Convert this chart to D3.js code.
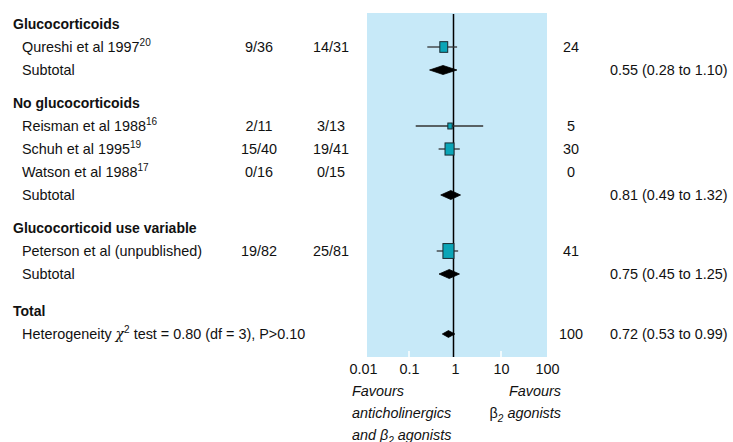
<!DOCTYPE html>
<html>
<head>
<meta charset="utf-8">
<script src="https://cdn.jsdelivr.net/npm/d3@7"></script>
<style>
    body { margin: 0; background: white; }
    svg { display: block; font-family: "Liberation Sans", Arial, sans-serif; }
</style>
</head>
<body>
<svg id="chart"></svg>
<script>
// Data
const group_names = ["Glucocorticoids", "No glucocorticoids", "Glucocorticoid use variable"]
const study_names = ["Qureshi et al 1997", "Reisman et al 1988", "Schuh et al 1995", "Watson et al 1988", "Peterson et al (unpublished)"]
const study_refs = ["20", "16", "19", "17", ""]
const study_group = [0, 1, 1, 1, 2]
const combined_events = ["9/36", "2/11", "15/40", "0/16", "19/82"]
const beta_events = ["14/31", "3/13", "19/41", "0/15", "25/81"]
const study_weights = [24, 5, 30, 0, 41]
const study_or = [0.57, 0.78, 0.76, null, 0.72]
const study_lower = [0.25, 0.14, 0.44, null, 0.40]
const study_upper = [1.11, 4.1, 1.27, null, 1.17]
const subtotal_or = [0.55, 0.81, 0.75]
const subtotal_lower = [0.28, 0.49, 0.45]
const subtotal_upper = [1.10, 1.32, 1.25]
const total_or = 0.72
const total_lower = 0.53
const total_upper = 0.99
const total_weight = 100
const tick_values = [0.01, 0.1, 1, 10, 100]
const tick_labels = ["0.01", "0.1", "1", "10", "100"]

const width = 733
const height = 442
const font_size = 14.4
const bold_size = 14
const row_step = 23
const panel_top = 13
const panel_bottom = 357

const svg = d3.select("#chart")
    .attr("width", width)
    .attr("height", height)

// Log scale for odds ratios
const x = d3.scaleLog()
    .domain([0.01, 100])
    .range([363, 547])

const box_size = d3.scaleLinear()
    .domain([0, 41])
    .range([3.5, 11])

const fmt = d3.format(".2f")

// Build row layout
const rows = []
let y_pos = 24
group_names.forEach(function(name, gi) {
    if (gi > 0) { y_pos += row_step + 10 }
    rows.push({ kind: "header", text: name, y: y_pos })
    study_names.forEach(function(s, i) {
        if (study_group[i] != gi) { return }
        y_pos += row_step
        rows.push({ kind: "study", i: i, y: y_pos })
    })
    y_pos += row_step
    rows.push({ kind: "subtotal", g: gi, y: y_pos })
})
y_pos += row_step + 14
rows.push({ kind: "header", text: "Total", y: y_pos })
y_pos += row_step
rows.push({ kind: "total", y: y_pos })

// Background panel
svg.append("rect")
    .attr("x", x(0.01) + 4)
    .attr("y", panel_top)
    .attr("width", x(100) - x(0.01) - 4)
    .attr("height", panel_bottom - panel_top)
    .attr("fill", "#c7e9f8")

// White tick marks at bottom of panel
svg.selectAll("line.wtick")
    .data([0.1, 10])
    .enter()
    .append("line")
    .attr("class", "wtick")
    .attr("x1", d => x(d))
    .attr("x2", d => x(d))
    .attr("y1", panel_bottom - 6)
    .attr("y2", panel_bottom)
    .attr("stroke", "white")
    .attr("stroke-width", 1.5)

// Line of no effect
svg.append("line")
    .attr("x1", x(1) - 1.5)
    .attr("x2", x(1) - 1.5)
    .attr("y1", panel_top + 1)
    .attr("y2", panel_bottom)
    .attr("stroke", "black")
    .attr("stroke-width", 1.5)

function addText(t, px, py, anchor, bold) {
    return svg.append("text")
        .attr("x", px)
        .attr("y", py + 5)
        .attr("text-anchor", anchor || "start")
        .attr("font-size", bold ? bold_size : font_size)
        .attr("font-weight", bold ? "bold" : "normal")
        .attr("fill", "#111")
        .text(t)
}

function diamond(est, lo, hi, cy, h) {
    const pts = [[x(lo), cy], [x(est), cy - h], [x(hi), cy], [x(est), cy + h]]
    svg.append("path")
        .attr("d", d3.line()(pts) + "Z")
        .attr("fill", "black")
        .attr("stroke", "black")
        .attr("stroke-width", 0.8)
}

rows.forEach(function(r) {
    if (r.kind == "header") {
        addText(r.text, 13, r.y, "start", true)
    } else if (r.kind == "study") {
        const i = r.i
        const t = addText(study_names[i], 22, r.y)
        if (study_refs[i] != "") {
            t.append("tspan")
                .attr("dy", -6)
                .attr("font-size", 10)
                .text(study_refs[i])
        }
        addText(combined_events[i], 259, r.y, "middle")
        addText(beta_events[i], 331, r.y, "middle")
        addText(study_weights[i], 571, r.y, "middle")
        if (study_or[i] != null) {
            svg.append("line")
                .attr("x1", x(study_lower[i]))
                .attr("x2", x(study_upper[i]))
                .attr("y1", r.y)
                .attr("y2", r.y)
                .attr("stroke", "#333")
                .attr("stroke-width", 1.3)
            const w = box_size(study_weights[i])
            const h = w * 1.35
            svg.append("rect")
                .attr("x", x(study_or[i]) - w / 2)
                .attr("y", r.y - h / 2)
                .attr("width", w)
                .attr("height", h)
                .attr("fill", "#0aa5b7")
                .attr("stroke", "#1a2a30")
                .attr("stroke-width", 1)
        }
    } else if (r.kind == "subtotal") {
        const g = r.g
        addText("Subtotal", 22, r.y)
        diamond(subtotal_or[g], subtotal_lower[g], subtotal_upper[g], r.y, 4.5)
        addText(fmt(subtotal_or[g]) + " (" + fmt(subtotal_lower[g]) + " to " + fmt(subtotal_upper[g]) + ")", 610, r.y)
    } else if (r.kind == "total") {
        const t = addText("Heterogeneity ", 22, r.y)
        t.append("tspan").attr("font-style", "italic").attr("font-family", "DejaVu Serif, serif").attr("font-size", 14).text("\u03c7")
        t.append("tspan").attr("dy", -6).attr("font-size", 10).text("2")
        t.append("tspan").attr("dy", 6).text(" test = 0.80 (df = 3), P>0.10")
        diamond(total_or, total_lower, total_upper, r.y, 3.4)
        addText(total_weight, 571, r.y, "middle")
        addText(fmt(total_or) + " (" + fmt(total_lower) + " to " + fmt(total_upper) + ")", 610, r.y)
    }
})

// Axis labels
const axis = d3.axisBottom(x)
    .tickValues(tick_values)
    .tickFormat((d, i) => tick_labels[i])
    .tickSize(0)

const axis_g = svg.append("g")
    .attr("transform", "translate(0," + panel_bottom + ")")
    .call(axis)

axis_g.select(".domain").remove()
axis_g.selectAll("text")
    .attr("y", 17)
    .attr("dy", 0)
    .attr("font-size", font_size)
    .attr("font-family", "\"Liberation Sans\", Arial, sans-serif")
    .attr("fill", "#111")

// Favours captions
const left_lines = ["Favours", "anticholinergics", "and \u03b2"]
left_lines.forEach(function(s, i) {
    const t = svg.append("text")
        .attr("x", 352)
        .attr("y", 396 + i * 22)
        .attr("font-size", font_size)
        .attr("font-style", "italic")
        .attr("fill", "#111")
        .text(s)
    if (i == 2) {
        t.append("tspan").attr("dy", 4).attr("font-size", 10).text("2")
        t.append("tspan").attr("dy", -4).text(" agonists")
    }
})

svg.append("text")
    .attr("x", 561)
    .attr("y", 396)
    .attr("text-anchor", "end")
    .attr("font-size", font_size)
    .attr("font-style", "italic")
    .attr("fill", "#111")
    .text("Favours")

const right2 = svg.append("text")
    .attr("x", 561)
    .attr("y", 418)
    .attr("text-anchor", "end")
    .attr("font-size", font_size)
    .attr("fill", "#111")
right2.append("tspan").text("\u03b2")
right2.append("tspan").attr("dy", 4).attr("font-size", 10).attr("font-style", "italic").text("2")
right2.append("tspan").attr("dy", -4).attr("font-style", "italic").text(" agonists")
</script>
</body>
</html>
